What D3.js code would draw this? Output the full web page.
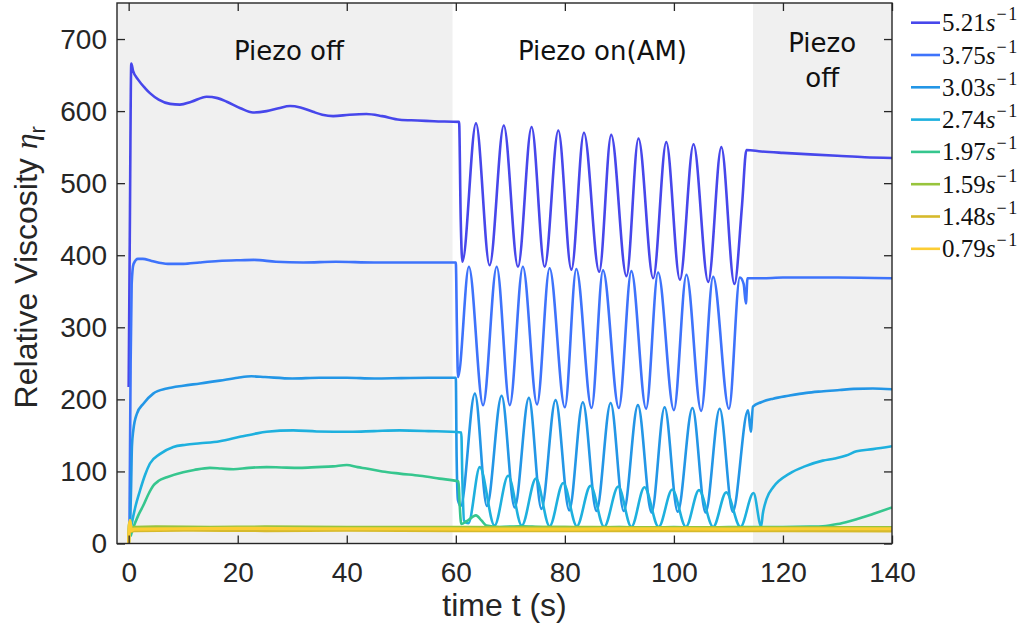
<!DOCTYPE html>
<html>
<head>
<meta charset="utf-8">
<script src="https://cdn.jsdelivr.net/npm/d3@7/dist/d3.min.js"></script>
<style>
  body { margin: 0; background: #fff; }
  svg { display: block; }
</style>
</head>
<body>
<div id="chart"></div>
<script>
// shear rates (legend) and line colours
const rates = ["5.21", "3.75", "3.03", "2.74", "1.97", "1.59", "1.48", "0.79"];
const colors = ["#4747eb", "#3e73fb", "#2396e6", "#1eb0de", "#36c68e", "#98c43c", "#d6ba2c", "#fccd34"];

// [time s, relative viscosity]
const s521 = [[0,217],[0.2,420],[0.48,666],[0.8,656],[1.8,643],[3,632],[3.9,625],[5.5,616],[7.6,610],[9.4,609],[11.5,613],[14.3,620],[16.3,618],[18,613],[20.5,604],[22.8,598],[25.3,600],[27.5,604],[29.6,607],[31.5,605],[33.8,599],[35.5,595],[37.5,593],[40.5,595],[43.6,596],[46.5,593],[49.7,588],[53,587],[56,586],[60.6,585],[60.9,450],[61.2,391],[63.7,583],[66.2,386],[68.8,580],[71.4,384],[73.9,578],[76.3,384],[78.8,573],[81.2,380],[83.5,570],[86.3,377],[88.5,567],[91.3,371],[93.5,562],[96.2,368],[98.6,557],[101.1,366],[103.6,554],[106.3,363],[108.7,550],[111.1,360],[112.5,470],[113.3,546],[116,544],[120,542],[125,540],[130,538],[135,536],[140,535]];
const s375 = [[0.15,22],[0.36,250],[0.55,360],[0.9,388],[1.7,395],[2.6,395],[4.2,392],[7.2,388],[10,388],[13,390],[16.5,392],[20,393],[23,393.5],[27,391],[32,390],[38,391],[45,390],[52,390],[60,390],[60.2,300],[60.4,231],[62.4,384],[65,192],[67.5,384],[69.9,192],[72.3,384],[74.9,193],[77.2,382],[80,189],[82.1,381],[84.9,188],[87,379],[89.9,188],[92.2,378],[94.9,187],[97.1,376],[100,185],[102.3,373],[105,184],[107.2,370],[110.1,187],[112.1,369],[112.8,360],[113.2,333],[113.5,368],[116,368],[120,369],[130,369],[140,368]];
const s303 = [[0.25,18],[0.45,80],[0.6,135],[0.85,157],[1.5,180],[2.7,194],[4.5,208],[7,215],[10,219],[13.1,222],[16.7,226],[20,230],[22.5,232],[25,231],[30,229],[35,230],[40,230],[45,229],[50,229.5],[55,230],[60,230],[60.15,120],[60.4,60],[60.9,52],[63.5,208],[65.7,52],[68.4,205],[70.8,50],[73.4,202],[75.7,48],[78.3,199],[80.8,46],[83.3,196],[85.8,45],[88.4,195],[90.8,45],[93.4,192],[95.9,43],[98.3,189],[100.7,44],[103.4,188],[105.8,43],[108.4,187],[110.8,44],[113.6,185],[114.1,155],[114.5,190],[116,196],[118.2,201],[121,205],[124.3,209],[127,211],[130.4,213],[133,214.5],[136.5,215],[140,214]];
const s274 = [[0.25,15],[0.55,27],[1.2,50],[2.1,74],[3,95],[3.9,111],[5.7,124],[8.2,134],[10.5,137],[13.1,139],[16.7,142],[20.4,148],[23,152],[25.3,155],[30.2,157],[34.5,155.5],[40.6,155],[45,156],[49.7,157],[55,156],[61,154],[61.2,90],[61.5,32],[62.3,28],[64.4,106],[67.1,25],[69.6,94],[72.1,25],[74.7,90],[77.2,24],[79.7,84],[82.2,24],[84.7,80],[87.2,23],[89.8,79],[92.2,23],[94.6,78],[97.2,23],[99.7,75],[102.2,23],[104.6,74],[107.2,23],[109.6,71],[112.2,23],[114.6,70],[116,24],[116.3,41],[117,62],[118.2,78],[121.2,97],[124,107],[127.3,115],[129.5,118],[131.6,122],[133.5,128],[136.5,131],[140,135]];
const s197 = [[0.35,10],[0.85,22],[1.7,38],[2.7,53],[3.6,68],[4.5,80],[5.5,87],[7,92],[10,99],[12,102],[14.9,105],[17,104],[19.2,103],[22,105],[25.3,106],[28,105.5],[31.4,105],[34.5,106],[37.5,107],[40,109],[42,106],[43.6,104],[46.5,100],[49.7,97],[53.4,94],[57,90],[60.5,86],[60.7,55],[61,27],[62,31],[63.7,39],[64.7,32],[65.6,25],[68,23],[72,24],[76,23],[80,23],[85,22],[90,23],[95,22],[100,23],[105,22],[110,23],[115,23],[120,23],[125,23.5],[127.3,24],[130,27],[132.2,31],[134.5,36],[136.5,41],[140,50]];
const s159 = [[0,0],[0.15,28],[0.4,21],[1,22.5],[5,23],[15,22.5],[25,23],[40,22.5],[55,22.5],[70,22],[85,22.5],[100,22],[120,22],[140,22]];
const s148 = [[0,2],[0.2,30],[0.45,17],[1,18],[10,18.5],[25,18],[40,18.5],[60,18],[80,18],[100,18],[120,18],[140,17.5]];
const s079 = [[0,0],[0.25,32],[0.5,18],[1,20],[8,20.5],[20,21],[35,20.5],[50,20.5],[65,20],[80,20],[95,20.5],[110,20],[125,20.5],[140,20.5]];
const series = [s521, s375, s303, s274, s197, s159, s148, s079];

// piezo phases: time span, shaded or not, where the note sits
const phases = [
  { from: -2.14, to: 59.4, shaded: true, at: 29.4, lines: ["Piezo off"] },
  { from: 59.4, to: 114.5, shaded: false, at: 86.9, lines: ["Piezo on(AM)"] },
  { from: 114.5, to: 140, shaded: true, at: 127.2, lines: ["Piezo", "off"] }
];

const xTicks = [0, 20, 40, 60, 80, 100, 120, 140];
const yTicks = [0, 100, 200, 300, 400, 500, 600, 700];

const W = 1034, H = 636;
const margin = { top: 3, right: 142, bottom: 92.5, left: 117 };
const width = W - margin.left - margin.right,
      height = H - margin.top - margin.bottom;
const ink = "#262626";

const svg = d3.select("#chart").append("svg")
  .attr("width", W).attr("height", H);

const g = svg.append("g")
  .attr("transform", `translate(${margin.left},${margin.top})`);

const x = d3.scaleLinear().domain([-2.14, 140]).range([0, width]);
const y = d3.scaleLinear().domain([0, 750]).range([height, 0]);

// background of the phases
g.append("g").selectAll("rect")
  .data(phases.filter(p => p.shaded))
  .enter().append("rect")
  .attr("x", d => x(d.from))
  .attr("width", d => x(d.to) - x(d.from))
  .attr("y", 0)
  .attr("height", height)
  .attr("fill", "#f0f0f0");

// phase notes
phases.forEach(p => {
  const t = g.append("text")
    .attr("x", x(p.at))
    .attr("text-anchor", "middle")
    .style("font-family", "'DejaVu Sans', Verdana, sans-serif")
    .style("font-size", "26px")
    .attr("fill", "#111");
  p.lines.forEach((s, i) => {
    t.append("tspan")
      .attr("x", x(p.at))
      .attr("y", (p.lines.length > 1 ? 49 : 57) + i * 35)
      .text(s);
  });
});

// clip for lines
svg.append("defs").append("clipPath").attr("id", "plotclip")
  .append("rect").attr("width", width).attr("height", height);

const line = d3.line()
  .x(d => x(d[0]))
  .y(d => y(d[1]))
  .curve(d3.curveMonotoneX);

g.append("g").attr("clip-path", "url(#plotclip)")
  .selectAll("path")
  .data(series)
  .enter().append("path")
  .attr("d", line)
  .attr("fill", "none")
  .attr("stroke", (d, i) => colors[i])
  .attr("stroke-width", (d, i) => i >= 5 ? 3.2 : 2.6)
  .attr("stroke-linejoin", "round");

// axes, ticks pointing inwards like MATLAB
const tickFont = "'Liberation Sans', Arial, Helvetica, sans-serif";

const xAxis = g.append("g")
  .attr("transform", `translate(0,${height})`)
  .call(d3.axisBottom(x).tickValues(xTicks).tickSizeInner(-8).tickSizeOuter(0).tickPadding(19));
const xTop = g.append("g")
  .call(d3.axisTop(x).tickValues(xTicks).tickSizeInner(-8).tickSizeOuter(0).tickFormat(""));
const yAxis = g.append("g")
  .call(d3.axisLeft(y).tickValues(yTicks).tickSizeInner(-8).tickSizeOuter(0).tickPadding(10));
const yRight = g.append("g")
  .attr("transform", `translate(${width},0)`)
  .call(d3.axisRight(y).tickValues(yTicks).tickSizeInner(-8).tickSizeOuter(0).tickFormat(""));

[xAxis, xTop, yAxis, yRight].forEach(a => {
  a.select(".domain").remove();
  a.selectAll(".tick line").attr("stroke", ink).attr("stroke-width", 1.3);
  a.selectAll(".tick text")
    .attr("fill", ink)
    .style("font-family", tickFont)
    .style("font-size", "28px");
});

// frame
g.append("rect")
  .attr("width", width).attr("height", height)
  .attr("fill", "none").attr("stroke", ink).attr("stroke-width", 1.4);

// axis titles
svg.append("text")
  .attr("x", margin.left + width / 2)
  .attr("y", 616)
  .attr("text-anchor", "middle")
  .attr("fill", ink)
  .style("font-family", tickFont)
  .style("font-size", "32px")
  .text("time t (s)");

const yTitle = svg.append("text")
  .attr("transform", `translate(37,${margin.top + height / 2 - 6}) rotate(-90)`)
  .attr("text-anchor", "middle")
  .attr("fill", ink)
  .style("font-family", tickFont)
  .style("font-size", "32px");
yTitle.append("tspan").text("Relative Viscosity ");
yTitle.append("tspan")
  .style("font-family", "'Liberation Serif', 'DejaVu Serif', serif")
  .style("font-style", "italic")
  .text("η");
yTitle.append("tspan")
  .attr("dy", 8)
  .style("font-size", "22px")
  .text("r");

// legend
const legend = svg.append("g")
  .attr("transform", `translate(${margin.left + width},0)`);

const item = legend.selectAll(".legend-item")
  .data(rates)
  .enter().append("g")
  .attr("class", "legend-item")
  .attr("transform", (d, i) => `translate(0,${22.7 + i * 32.3})`);

item.append("line")
  .attr("x1", 19).attr("x2", 48)
  .attr("stroke", (d, i) => colors[i])
  .attr("stroke-width", 2.6);

const label = item.append("text")
  .attr("x", 50)
  .attr("y", 8.5)
  .attr("fill", "#111")
  .style("font-family", "'Liberation Serif', 'DejaVu Serif', serif")
  .style("font-size", "25px");
label.append("tspan").text(d => d);
label.append("tspan").style("font-style", "italic").text("s");
label.append("tspan")
  .attr("dy", -11)
  .attr("dx", 1)
  .style("font-size", "18px")
  .style("letter-spacing", "1.5px")
  .text("\u22121");
</script>
</body>
</html>
